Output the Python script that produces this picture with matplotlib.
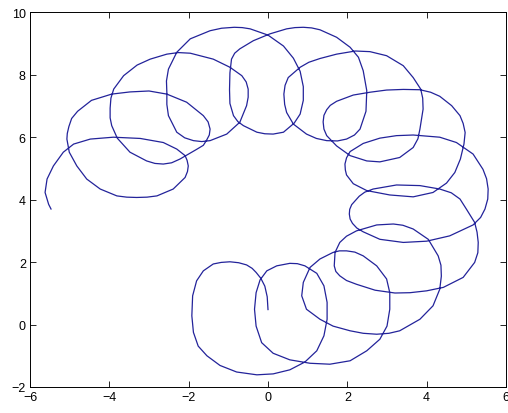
import matplotlib
matplotlib.use("Agg")
import matplotlib.pyplot as plt

# curve points, in drawing order
x = [0.00, -0.02, -0.08, -0.18, -0.30, -0.40, -0.54, -0.74, -0.96, -1.18,
     -1.38, -1.63, -1.80, -1.90, -1.92, -1.88, -1.76, -1.54, -1.21, -0.79,
     -0.28, 0.13, 0.55, 0.93, 1.23, 1.41, 1.49, 1.49, 1.41, 1.23,
     0.93, 0.74, 0.55, 0.22, -0.03, -0.20, -0.30, -0.34, -0.30, -0.16,
     0.13, 0.55, 1.06, 1.56, 2.07, 2.49, 2.82, 3.00, 3.07, 3.07,
     2.99, 2.74, 2.40, 2.19, 1.98, 1.80, 1.64, 1.31, 1.06, 0.89,
     0.85, 0.97, 1.31, 1.64, 2.07, 2.40, 2.74, 3.05, 3.32, 3.83,
     4.16, 4.33, 4.37, 4.36, 4.29, 4.04, 3.66, 3.40, 3.16, 2.74,
     2.23, 1.98, 1.81, 1.69, 1.67, 1.71, 1.81, 1.98, 2.23, 2.70,
     3.20, 3.58, 4.00, 4.42, 4.92, 5.21, 5.29, 5.30, 5.27, 5.21,
     5.00, 4.84, 4.62, 4.33, 3.83, 3.24, 2.65, 2.44, 2.30, 2.11,
     2.06, 2.05, 2.07, 2.13, 2.24, 2.40, 2.82, 3.41, 4.00, 4.58,
     5.17, 5.36, 5.47, 5.54, 5.55, 5.51, 5.42, 5.17, 4.75, 4.33,
     3.66, 3.24, 2.82, 2.40, 2.07, 1.98, 1.94, 1.95, 1.98, 2.15,
     2.49, 3.07, 3.66, 4.16, 4.50, 4.71, 4.85, 4.94, 4.97, 4.92,
     4.84, 4.63, 4.33, 4.10, 3.83, 3.41, 2.99, 2.57, 2.15, 1.73,
     1.57, 1.48, 1.41, 1.39, 1.41, 1.48, 1.73, 2.07, 2.49, 2.82,
     3.32, 3.66, 3.78, 3.83, 3.91, 3.90, 3.85, 3.66, 3.41, 2.99,
     2.57, 2.20, 1.73, 1.31, 1.03, 0.81, 0.51, 0.43, 0.40, 0.42,
     0.47, 0.64, 0.97, 1.22, 1.48, 1.75, 1.98, 2.18, 2.32, 2.47,
     2.49, 2.40, 2.28, 2.07, 1.73, 1.31, 1.10, 0.89, 0.68, 0.47,
     0.05, -0.37, -0.71, -0.84, -0.92, -0.96, -0.97, -0.96, -0.87, -0.76,
     -0.62, -0.28, -0.08, 0.13, 0.39, 0.66, 0.81, 0.89, 0.89, 0.81,
     0.64, 0.39, 0.00, -0.45, -0.65, -0.85, -1.17, -1.46, -1.96, -2.30,
     -2.51, -2.56, -2.55, -2.55, -2.51, -2.30, -2.10, -1.88, -1.67, -1.46,
     -1.04, -0.71, -0.54, -0.50, -0.50, -0.55, -0.66, -0.96, -1.38, -1.96,
     -2.26, -2.55, -2.97, -3.30, -3.64, -3.89, -3.96, -3.98, -3.98, -3.94,
     -3.80, -3.48, -3.06, -2.85, -2.64, -2.43, -2.22, -1.80, -1.63, -1.55,
     -1.48, -1.46, -1.51, -1.63, -2.05, -2.55, -3.00, -3.48, -3.94, -4.45,
     -4.80, -4.95, -5.02, -5.06, -5.07, -5.01, -4.82, -4.57, -4.23, -3.81,
     -3.56, -3.31, -3.05, -2.80, -2.39, -2.09, -2.03, -2.01, -2.04, -2.09,
     -2.30, -2.64, -3.22, -3.90, -4.48, -4.90, -5.16, -5.41, -5.57, -5.62,
     -5.53, -5.47]
y = [0.48, 0.89, 1.23, 1.48, 1.67, 1.80, 1.91, 1.98, 2.01, 1.99,
     1.94, 1.72, 1.40, 0.92, 0.28, -0.25, -0.69, -1.00, -1.31, -1.52,
     -1.61, -1.58, -1.45, -1.20, -0.84, -0.36, 0.17, 0.71, 1.24, 1.64,
     1.88, 1.95, 1.96, 1.88, 1.72, 1.43, 1.02, 0.49, -0.05, -0.58,
     -0.92, -1.13, -1.24, -1.27, -1.16, -0.84, -0.47, -0.05, 0.49, 1.02,
     1.46, 1.88, 2.20, 2.32, 2.36, 2.36, 2.31, 2.10, 1.83, 1.35,
     0.92, 0.49, 0.17, -0.05, -0.20, -0.28, -0.31, -0.28, -0.20, 0.17,
     0.60, 1.13, 1.55, 1.90, 2.20, 2.73, 3.06, 3.18, 3.22, 3.19,
     3.00, 2.83, 2.63, 2.31, 1.88, 1.70, 1.56, 1.41, 1.29, 1.10,
     1.01, 1.02, 1.08, 1.19, 1.51, 1.99, 2.30, 2.63, 2.96, 3.27,
     3.70, 4.02, 4.22, 4.34, 4.45, 4.47, 4.34, 4.24, 4.11, 3.84,
     3.69, 3.54, 3.38, 3.24, 3.09, 2.97, 2.73, 2.63, 2.67, 2.84,
     3.19, 3.43, 3.70, 4.02, 4.34, 4.67, 4.97, 5.46, 5.83, 6.00,
     6.07, 6.05, 5.97, 5.80, 5.54, 5.34, 5.14, 4.95, 4.79, 4.51,
     4.29, 4.15, 4.09, 4.23, 4.53, 4.87, 5.30, 5.78, 6.15, 6.44,
     6.69, 7.01, 7.31, 7.44, 7.52, 7.53, 7.51, 7.44, 7.35, 7.15,
     7.02, 6.88, 6.70, 6.49, 6.26, 6.05, 5.72, 5.41, 5.24, 5.21,
     5.35, 5.67, 5.95, 6.26, 6.90, 7.25, 7.54, 7.91, 8.29, 8.61,
     8.74, 8.76, 8.66, 8.52, 8.40, 8.24, 7.91, 7.66, 7.38, 7.05,
     6.79, 6.42, 6.10, 5.96, 5.89, 5.88, 5.94, 6.07, 6.26, 6.83,
     7.49, 8.13, 8.56, 8.88, 9.20, 9.44, 9.50, 9.52, 9.51, 9.47,
     9.31, 9.09, 8.83, 8.69, 8.50, 8.06, 7.52, 7.08, 6.69, 6.50,
     6.37, 6.16, 6.11, 6.10, 6.16, 6.45, 6.74, 7.18, 7.62, 8.11,
     8.53, 8.92, 9.27, 9.47, 9.51, 9.52, 9.49, 9.41, 9.15, 8.72,
     8.18, 7.80, 7.43, 7.05, 6.69, 6.16, 5.98, 5.89, 5.86, 5.89,
     6.10, 6.48, 7.01, 7.28, 7.54, 7.77, 7.97, 8.24, 8.50, 8.69,
     8.71, 8.66, 8.50, 8.31, 7.97, 7.54, 7.25, 6.93, 6.62, 6.37,
     5.97, 5.52, 5.24, 5.16, 5.14, 5.18, 5.30, 5.61, 5.74, 5.90,
     6.07, 6.26, 6.49, 6.69, 7.12, 7.38, 7.48, 7.45, 7.38, 7.18,
     6.83, 6.60, 6.34, 6.12, 5.94, 5.52, 5.08, 4.66, 4.34, 4.12,
     4.08, 4.07, 4.08, 4.12, 4.34, 4.71, 4.90, 5.08, 5.26, 5.41,
     5.62, 5.83, 5.96, 6.00, 5.94, 5.78, 5.52, 5.08, 4.66, 4.23,
     3.85, 3.70]

xticks = [-6, -4, -2, 0, 2, 4, 6]
yticks = [-2, 0, 2, 4, 6, 8, 10]

plt.rcParams['font.family'] = 'Liberation Sans'

fig = plt.figure(figsize=(5.08, 4.14), dpi=100)
ax = fig.add_axes([30 / 508, 1 - 388 / 414, 476 / 508, 374.7 / 414])
ax.plot(x, y, color='#23239a', linewidth=0.9, solid_joinstyle='round')

ax.set_xlim(-6, 6)
ax.set_ylim(-2, 10)
ax.set_xticks(xticks)
ax.set_yticks(yticks)
ax.tick_params(direction='in', length=4, width=0.6, labelsize=9,
               top=True, right=True, pad=3)
for s in ax.spines.values():
    s.set_linewidth(0.7)

fig.savefig('out.png', dpi=100)
